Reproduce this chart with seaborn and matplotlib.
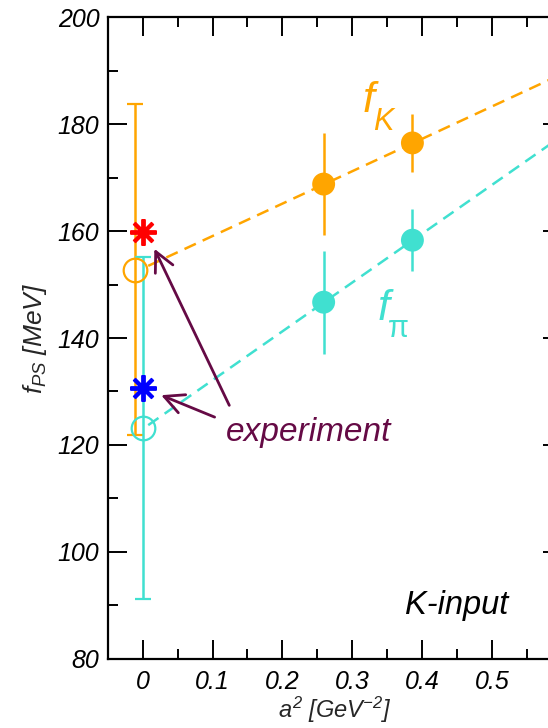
import matplotlib
matplotlib.use("Agg")
import numpy as np
import pandas as pd
import seaborn as sns
import matplotlib.pyplot as plt

# lattice points
a2 = [0.259, 0.386]
fK = [168.8, 176.5]
fK_err = [9.6, 5.5]
fpi = [146.7, 158.3]
fpi_err = [9.6, 5.85]

# continuum extrapolation
fK_cont_x = [-0.011]
fK_cont = [152.8]
fK_cont_err = [31.0]
fpi_cont_x = [0.0]
fpi_cont = [123.1]
fpi_cont_err = [32.0]

# experimental values
exp_x = [0.0]
fK_exp = [159.8]
fpi_exp = [130.6]

# linear fits
fit_x = [0.008, 0.6]
fK_fit = [153.5, 189.4]
fpi_fit = [123.7, 177.8]

xtick_labels = ["0", "0.1", "0.2", "0.3", "0.4", "0.5"]

orange = "#FFA500"
teal = "#40E0D0"
purple = "#650A45"

sns.set_style("ticks")
plt.rcParams["font.family"] = ["Liberation Sans", "DejaVu Sans"]
plt.rcParams["font.style"] = "italic"
plt.rcParams["mathtext.fontset"] = "custom"
plt.rcParams["mathtext.rm"] = "Liberation Sans:italic"
plt.rcParams["mathtext.it"] = "Liberation Sans:italic"

fig = plt.figure(figsize=(5.48, 7.28), dpi=100)
ax = fig.add_axes([0.1965, 0.0952, 0.829, 0.881])

fits = pd.DataFrame({"x": fit_x * 2, "y": fK_fit + fpi_fit,
                     "meson": ["K"] * 2 + ["pi"] * 2})
sns.lineplot(data=fits, x="x", y="y", hue="meson", palette=[orange, teal],
             lw=1.8, ax=ax, legend=False, zorder=1)
for line in ax.lines:
    line.set_dashes((5, 3))

# lattice data
ax.errorbar(a2, fK, yerr=fK_err, fmt="none", ecolor=orange, elinewidth=1.8, zorder=2)
ax.errorbar(a2, fpi, yerr=fpi_err, fmt="none", ecolor=teal, elinewidth=1.8, zorder=2)
pts = pd.DataFrame({"x": a2 * 2, "y": fK + fpi, "meson": ["K"] * 2 + ["pi"] * 2})
sns.scatterplot(data=pts, x="x", y="y", hue="meson", palette=[orange, teal],
                s=16.5 ** 2, linewidth=0, ax=ax, legend=False, zorder=3)

# continuum values
ax.errorbar(fK_cont_x, fK_cont, yerr=fK_cont_err, fmt="o", color=orange, mfc="none",
            ms=17, mew=1.6, elinewidth=1.8, capsize=6, capthick=1.8, zorder=2)
ax.errorbar(fpi_cont_x, fpi_cont, yerr=fpi_cont_err, fmt="o", color=teal, mfc="none",
            ms=17, mew=1.6, elinewidth=1.8, capsize=6, capthick=1.8, zorder=2)

# experiment
ax.plot(exp_x, fK_exp, ls="none", marker=(8, 2, 0), ms=19, mew=2.8, color="red", zorder=4)
ax.plot(exp_x, fpi_exp, ls="none", marker=(8, 2, 0), ms=19, mew=2.8, color="blue", zorder=4)

arrow = dict(arrowstyle="->,head_length=0.7,head_width=0.35", color=purple, lw=2,
             shrinkA=0, shrinkB=0, mutation_scale=20)
ax.annotate("", xy=(0.0168, 156.7), xytext=(0.124, 127.4), arrowprops=arrow)
ax.annotate("", xy=(0.0265, 129.3), xytext=(0.103, 125.2), arrowprops=arrow)
ax.text(0.119, 120.8, "experiment", color=purple, fontsize=24, va="baseline", ha="left")

ax.text(0.315, 182.3, "f", color=orange, fontsize=31, va="baseline", ha="left")
ax.text(0.329, 178.9, "K", color=orange, fontsize=22, va="baseline", ha="left")
ax.text(0.336, 143.3, "f", color=teal, fontsize=31, va="baseline", ha="left")
ax.text(0.351, 140.1, "π", color=teal, fontsize=22, va="baseline", ha="left",
        fontstyle="normal")

ax.text(0.375, 88.4, "K-input", color="black", fontsize=23.5, va="baseline", ha="left")

ax.set_xlim(-0.05, 0.6)
ax.set_ylim(80, 200)
ax.set_xticks(np.arange(0, 0.6, 0.1))
ax.set_xticklabels(xtick_labels)
ax.set_xticks(np.arange(0.05, 0.6, 0.1), minor=True)
ax.set_yticks(np.arange(80, 201, 20))
ax.set_yticks(np.arange(90, 200, 20), minor=True)
ax.tick_params(which="both", direction="in", top=True, right=True, width=1.4,
               labelsize=18, pad=6, colors="black")
ax.tick_params(which="major", length=13.7)
ax.tick_params(which="minor", length=7.2)
ax.tick_params(axis="x", pad=8)
for lab in ax.get_xticklabels() + ax.get_yticklabels():
    lab.set_fontstyle("italic")
for sp in ax.spines.values():
    sp.set_linewidth(1.6)
    sp.set_color("black")

ax.set_xlabel(r"$a^2$ [GeV$^{-2}$]", fontsize=17, labelpad=1)
ax.set_ylabel(r"$f_{PS}$ [MeV]", fontsize=19, labelpad=6)

fig.savefig("out.png", dpi=100)
